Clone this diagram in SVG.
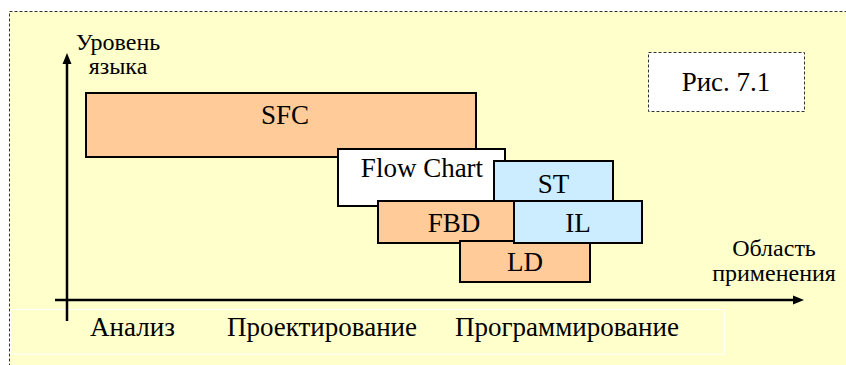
<svg xmlns="http://www.w3.org/2000/svg" width="846" height="365" viewBox="0 0 846 365">
<style>
.box{stroke:#000;stroke-width:2}
.or{fill:#FFCC99}
.bl{fill:#CCECFF}
.wh{fill:#FFFFFF}
.axis{stroke:#000;stroke-width:2.5;fill:none}
.dash{stroke:#333;stroke-width:1;stroke-dasharray:3,2}
</style>
<rect class="dash" x="9.5" y="11.5" width="900" height="400" fill="#FFFFCC"/>
<rect x="10.5" y="309.5" width="714" height="44.5" fill="none" stroke="#FFFFFF" stroke-width="1"/>
<g id="fig-label">
<rect class="dash" x="648.5" y="52.5" width="156" height="59" fill="#FFFFFF"/>
<text x="726" y="91" font-size="27" text-anchor="middle" font-family="Liberation Serif, serif">Рис. 7.1</text>
</g>
<g id="connectors">
<line class="axis" x1="67" y1="321" x2="67" y2="62"/>
<polygon points="67,53 62.5,64 71.5,64" fill="#000"/>
<line class="axis" x1="55" y1="300" x2="795" y2="300"/>
<polygon points="804,300 793,295.5 793,304.5" fill="#000"/>
</g>
<g id="y-label">
<text x="118" y="50" font-size="24" text-anchor="middle" font-family="Liberation Serif, serif">Уровень</text>
<text x="118" y="74" font-size="24" text-anchor="middle" font-family="Liberation Serif, serif">языка</text>
</g>
<g id="x-label">
<text x="774" y="256" font-size="24" text-anchor="middle" font-family="Liberation Serif, serif">Область</text>
<text x="774" y="281" font-size="24" text-anchor="middle" font-family="Liberation Serif, serif">применения</text>
</g>
<g id="sfc"><rect class="box or" x="86" y="93" width="390" height="64"/><text x="285" y="124" font-size="27" text-anchor="middle" font-family="Liberation Serif, serif">SFC</text></g>
<g id="flowchart"><rect class="box wh" x="338" y="149" width="167" height="57"/><text x="422" y="177" font-size="27" text-anchor="middle" font-family="Liberation Serif, serif">Flow Chart</text></g>
<g id="fbd"><rect class="box or" x="378" y="201" width="150" height="42"/><text x="454" y="232" font-size="27" text-anchor="middle" font-family="Liberation Serif, serif">FBD</text></g>
<g id="ld"><rect class="box or" x="460" y="241" width="130" height="41"/><text x="525" y="271" font-size="27" text-anchor="middle" font-family="Liberation Serif, serif">LD</text></g>
<g id="st"><rect class="box bl" x="494" y="161" width="119" height="40"/><text x="553.5" y="193" font-size="27" text-anchor="middle" font-family="Liberation Serif, serif">ST</text></g>
<g id="il"><rect class="box bl" x="514" y="201" width="128" height="42"/><text x="578" y="232" font-size="27" text-anchor="middle" font-family="Liberation Serif, serif">IL</text></g>
<g id="phases">
<text x="132.5" y="336" font-size="27" text-anchor="middle" font-family="Liberation Serif, serif">Анализ</text>
<text x="322" y="336" font-size="27" text-anchor="middle" font-family="Liberation Serif, serif">Проектирование</text>
<text x="567" y="336" font-size="27" text-anchor="middle" font-family="Liberation Serif, serif">Программирование</text>
</g>
</svg>
